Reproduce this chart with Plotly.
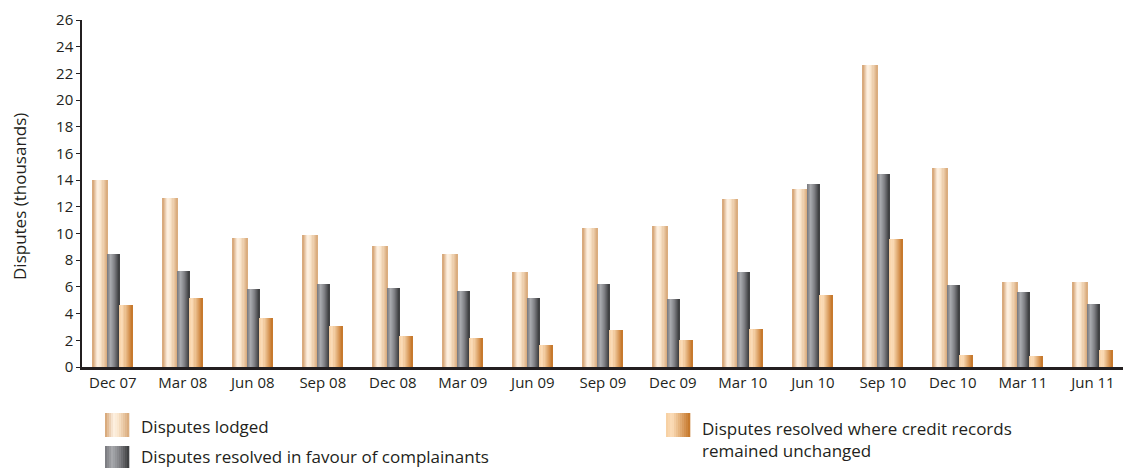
import plotly.graph_objects as go

# Quarterly dispute counts (thousands)
quarters = ["Dec 07", "Mar 08", "Jun 08", "Sep 08", "Dec 08", "Mar 09", "Jun 09", "Sep 09",
            "Dec 09", "Mar 10", "Jun 10", "Sep 10", "Dec 10", "Mar 11", "Jun 11"]
lodged = [14.0, 12.65, 9.65, 9.87, 9.05, 8.45, 7.1, 10.4, 10.6, 12.58, 13.32, 22.63, 14.9, 6.35, 6.4]
favour = [8.5, 7.18, 5.83, 6.2, 5.9, 5.68, 5.15, 6.2, 5.08, 7.1, 13.7, 14.45, 6.12, 5.6, 4.75]
unchanged = [4.63, 5.15, 3.65, 3.1, 2.3, 2.15, 1.63, 2.75, 2.0, 2.83, 5.37, 9.57, 0.87, 0.8, 1.3]

y_ticks = list(range(0, 27, 2))

FONT = "Open Sans, Noto Sans, sans-serif"
TEXT = "#231f20"

# Horizontal shading stops (position 0..1 across the bar, colour)
lodged_stops = [(0.0, (212, 162, 112)), (0.35, (253, 240, 226)), (0.55, (250, 230, 205)), (1.0, (216, 168, 120))]
favour_stops = [(0.0, (118, 119, 124)), (0.3, (168, 169, 173)), (0.6, (130, 131, 135)), (1.0, (58, 58, 60))]
unchanged_stops = [(0.0, (246, 206, 160)), (0.25, (252, 222, 186)), (1.0, (196, 116, 38))]


def shade(stops, t):
    for (p0, c0), (p1, c1) in zip(stops[:-1], stops[1:]):
        if p0 <= t <= p1:
            f = (t - p0) / (p1 - p0) if p1 > p0 else 0
            r, g, b = (round(c0[i] + (c1[i] - c0[i]) * f) for i in range(3))
            return f"rgb({r},{g},{b})"
    r, g, b = stops[-1][1]
    return f"rgb({r},{g},{b})"


N = 12
fig = go.Figure()

# Each bar is drawn as thin vertical slices so it carries a horizontal gradient
series = [
    ("Disputes lodged", lodged, lodged_stops, -0.286, 0.214),
    ("Disputes resolved in favour of complainants", favour, favour_stops, -0.072, 0.171),
    ("Disputes resolved where credit records remained unchanged", unchanged, unchanged_stops, 0.099, 0.18),
]
for name, vals, stops, off, w in series:
    sw = w / N
    for k in range(N):
        fig.add_trace(go.Bar(
            x=quarters, y=vals, name=name,
            offset=off + k * sw, width=sw * 1.08,
            marker=dict(color=shade(stops, (k + 0.5) / N), line=dict(width=0)),
            showlegend=False, hoverinfo="skip" if k else "x+y+name",
        ))

# Plot area geometry in pixels
L, R, T, B = 82, 1123, 20, 367
W, H = R - L, B - T


def px_x(p):
    return (p - L) / W


def px_y(p):
    return (B - p) / H


# Legend: gradient swatches + labels
legend_items = [
    (105, 413, lodged_stops, "Disputes lodged", 139, 426),
    (105, 446, favour_stops, "Disputes resolved in favour of complainants", 139, 456),
    (666, 413, unchanged_stops, "Disputes resolved where credit records<br>remained unchanged", 700, 439),
]
shapes = []
annotations = []
for x0, y0, stops, label, tx, ty in legend_items:
    M = 12
    for k in range(M):
        a = x0 + 24 * k / M
        b = x0 + 24 * (k + 1) / M + 0.3
        shapes.append(dict(type="rect", xref="paper", yref="paper",
                           x0=px_x(a), x1=px_x(b), y0=px_y(y0), y1=px_y(y0 + 24),
                           fillcolor=shade(stops, (k + 0.5) / M), line=dict(width=0), layer="above"))
    annotations.append(dict(text=label, xref="paper", yref="paper", x=px_x(tx), y=px_y(ty),
                            xanchor="left", yanchor="middle", showarrow=False, align="left",
                            font=dict(family=FONT, size=17, color=TEXT)))

annotations.append(dict(text="Disputes (thousands)", xref="paper", yref="paper",
                        x=px_x(19), y=px_y(197), textangle=-90, showarrow=False,
                        xanchor="center", yanchor="middle",
                        font=dict(family=FONT, size=17, color=TEXT)))

fig.update_layout(
    width=1128, height=468,
    margin=dict(l=L, r=1128 - R, t=T, b=468 - B),
    paper_bgcolor="white", plot_bgcolor="white",
    barmode="overlay", bargap=0,
    shapes=shapes, annotations=annotations,
    showlegend=False,
    font=dict(family=FONT, color=TEXT),
)
fig.update_xaxes(
    type="category", range=[-0.44, 14.43],
    showline=True, linecolor="#231f20", linewidth=2.5,
    ticks="", showgrid=False, zeroline=False,
    tickfont=dict(family=FONT, size=15, color=TEXT),
)
fig.update_yaxes(
    range=[0, 26], tickvals=y_ticks,
    showline=True, linecolor="#231f20", linewidth=1.5,
    ticks="outside", ticklen=4, tickwidth=1, tickcolor="#231f20",
    showgrid=False, zeroline=False,
    tickfont=dict(family=FONT, size=15, color=TEXT),
)

fig.write_html("out.html")
